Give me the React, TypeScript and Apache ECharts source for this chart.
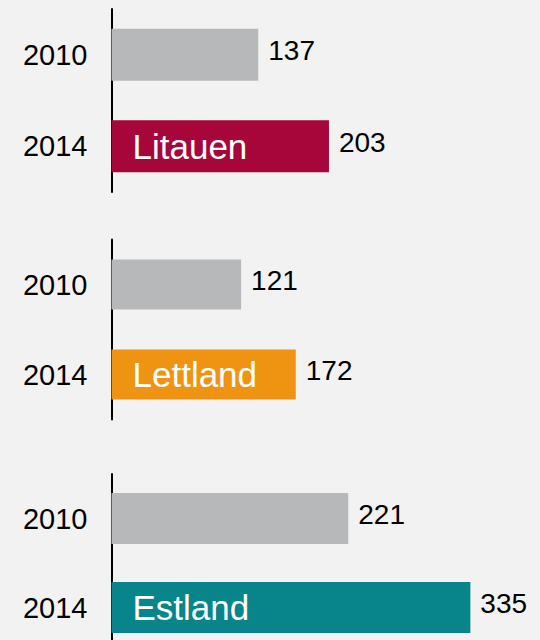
import React, { useEffect, useRef } from "react";
import * as echarts from "echarts";

const years = ["2010", "2014"];
const countries = ["Litauen", "Lettland", "Estland"];
const values2010 = [137, 121, 221];
const values2014 = [203, 172, 335];
const countryColors = ["#a6063a", "#ee9412", "#07858a"];
const grayColor = "#b7b8ba";

const panelTops = [9, 239.5, 474];
const panelHeights = [183, 180, 178];
const barWidths = [52, 50, 51];

const FONT = "'Liberation Sans', Arial, sans-serif";

export default function App() {
  const ref = useRef<HTMLDivElement>(null);
  useEffect(() => {
    document.body.style.margin = "0";
    const chart = echarts.init(ref.current!, null, { renderer: "svg" });
    const grids: any[] = [];
    const xAxes: any[] = [];
    const yAxes: any[] = [];
    const series: any[] = [];
    countries.forEach((c, i) => {
      grids.push({ left: 111.5, width: 431, top: panelTops[i], height: panelHeights[i] });
      xAxes.push({
        gridIndex: i,
        type: "value",
        min: 0,
        max: 400,
        show: false,
      });
      yAxes.push({
        gridIndex: i,
        type: "category",
        data: years,
        inverse: true,
        axisLine: { show: true, lineStyle: { color: "#000", width: 2 } },
        axisTick: { show: false },
        axisLabel: { fontSize: 29, color: "#000", fontFamily: FONT, margin: 24 },
        splitLine: { show: false },
      });
      series.push({
        type: "bar",
        xAxisIndex: i,
        yAxisIndex: i,
        barWidth: barWidths[i],
        barGap: "-100%",
        data: [
          { value: values2010[i], itemStyle: { color: grayColor } },
          { value: values2014[i], itemStyle: { color: countryColors[i] } },
        ],
        label: {
          show: true,
          position: "right",
          distance: 10,
          offset: [0, -4],
          fontSize: 28,
          color: "#000",
          fontFamily: FONT,
        },
        z: 1,
      });
      series.push({
        type: "bar",
        xAxisIndex: i,
        yAxisIndex: i,
        barWidth: barWidths[i],
        barGap: "-100%",
        data: ["-", values2014[i]],
        itemStyle: { color: "transparent" },
        label: {
          show: true,
          position: "insideLeft",
          distance: 21,
          formatter: () => c,
          fontSize: 35,
          color: "#fff",
          fontFamily: FONT,
        },
        z: 3,
      });
    });
    chart.setOption({
      animation: false,
      backgroundColor: "#f2f2f2",
      grid: grids,
      xAxis: xAxes,
      yAxis: yAxes,
      series,
    });
    return () => chart.dispose();
  }, []);
  return (
    <div
      style={{
        width: 540,
        height: 640,
        position: "absolute",
        left: 0,
        top: 0,
        overflow: "hidden",
      }}
    >
      <div ref={ref} style={{ width: 540, height: 680 }} />
    </div>
  );
}
